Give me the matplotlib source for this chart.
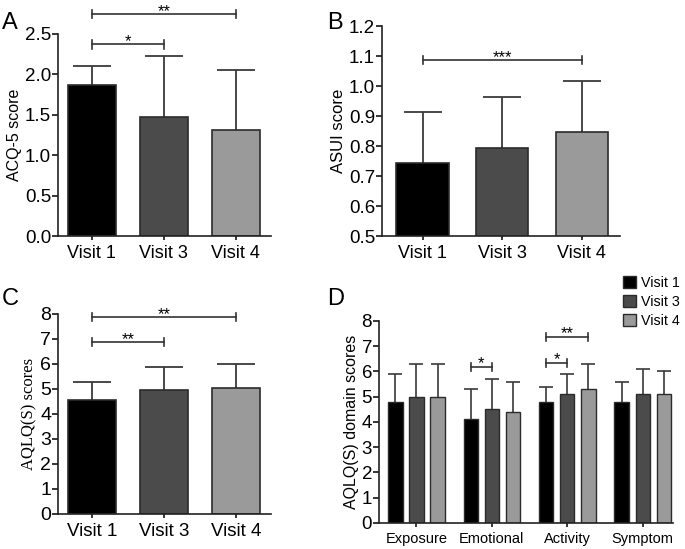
import numpy as np
import matplotlib
matplotlib.use("Agg")
import matplotlib.pyplot as plt
from matplotlib.patches import Patch

plt.rcParams['font.family'] = ['Liberation Sans', 'DejaVu Sans']

# data
visits = ['Visit 1', 'Visit 3', 'Visit 4']
acq_mean = [1.87, 1.47, 1.31]
acq_sd = [0.24, 0.76, 0.74]
asui_mean = [0.745, 0.795, 0.847]
asui_sd = [0.167, 0.168, 0.170]
aqlq_mean = [4.56, 4.96, 5.02]
aqlq_sd = [0.71, 0.90, 0.98]
domains = ['Exposure', 'Emotional', 'Activity', 'Symptom']
dom_v1 = [4.8, 4.1, 4.8, 4.8]
dom_v1_sd = [1.1, 1.2, 0.6, 0.8]
dom_v3 = [5.0, 4.5, 5.1, 5.1]
dom_v3_sd = [1.3, 1.2, 0.8, 1.0]
dom_v4 = [5.0, 4.4, 5.3, 5.1]
dom_v4_sd = [1.3, 1.2, 1.0, 0.9]

colors = ['#000000', '#4b4b4b', '#9a9a9a']
edge = '#2b2b2b'
ecol = '#3a3a3a'


def style(ax, ysize):
    for s in ['top', 'right']:
        ax.spines[s].set_visible(False)
    for s in ['left', 'bottom']:
        ax.spines[s].set_linewidth(1.2)
        ax.spines[s].set_color('#222222')
    ax.tick_params(axis='y', labelsize=ysize, length=4, width=1.1, pad=1)
    ax.tick_params(axis='x', length=3, width=1.1)


def sig(ax, x1, x2, y, txt, d):
    ax.plot([x1, x2], [y, y], color='#333333', lw=1.2, clip_on=False)
    for x in (x1, x2):
        ax.plot([x, x], [y - d, y + d], color='#333333', lw=1.2, clip_on=False)
    ax.annotate(txt, xy=((x1 + x2) / 2, y), xytext=(0, -3.5),
                textcoords='offset points', ha='center', va='bottom',
                fontsize=12, annotation_clip=False)


def simple_bars(ax, mean, sd):
    x = np.arange(len(mean))
    ax.errorbar(x, mean, yerr=sd, fmt='none', ecolor=ecol, elinewidth=1.3,
                capsize=14, capthick=1.3, zorder=1)
    ax.bar(x, mean, width=0.66, color=colors, edgecolor=edge, linewidth=1.2,
           zorder=2)
    ax.set_xticks(x)
    return x


fig = plt.figure(figsize=(6.85, 5.49), dpi=100)

# A
axA = fig.add_axes([0.0847, 0.5701, 0.311, 0.368])
simple_bars(axA, acq_mean, acq_sd)
axA.set_xticklabels(visits, fontsize=13)
axA.set_xlim(-0.47, 2.49)
axA.set_ylim(0, 2.5)
axA.set_yticks(np.arange(0, 2.51, 0.5))
axA.yaxis.set_major_formatter(matplotlib.ticker.FormatStrFormatter('%.1f'))
style(axA, 13.5)
axA.set_ylabel('ACQ-5 score', fontsize=11.5, labelpad=2)
sig(axA, 0, 1, 2.37, '*', 0.05)
sig(axA, 0, 2, 2.75, '**', 0.05)

# B
axB = fig.add_axes([0.5577, 0.5701, 0.3474, 0.3825])
simple_bars(axB, asui_mean, asui_sd)
axB.set_xticklabels(visits, fontsize=13)
axB.set_xlim(-0.51, 2.48)
axB.set_ylim(0.5, 1.2)
axB.set_yticks(np.arange(0.5, 1.21, 0.1))
axB.yaxis.set_major_formatter(matplotlib.ticker.FormatStrFormatter('%.1f'))
style(axB, 13.5)
axB.set_ylabel('ASUI score', fontsize=12, labelpad=2)
sig(axB, 0, 2, 1.087, '***', 0.013)

# C
axC = fig.add_axes([0.0847, 0.0638, 0.311, 0.3643])
simple_bars(axC, aqlq_mean, aqlq_sd)
axC.set_xticklabels(visits, fontsize=13.5)
axC.set_xlim(-0.47, 2.49)
axC.set_ylim(0, 8)
axC.set_yticks(range(0, 9))
style(axC, 14)
axC.set_ylabel('AQLQ(S) scores', fontsize=12, family='Liberation Serif',
               labelpad=2)
sig(axC, 0, 1, 6.87, '**', 0.16)
sig(axC, 0, 2, 7.87, '**', 0.16)

# D
axD = fig.add_axes([0.5533, 0.0474, 0.429, 0.368])
gx = np.arange(len(domains))
off = 0.28
bw = 0.19
series = [(dom_v1, dom_v1_sd), (dom_v3, dom_v3_sd), (dom_v4, dom_v4_sd)]
for i, (m, s) in enumerate(series):
    xs = gx + (i - 1) * off
    axD.errorbar(xs, m, yerr=s, fmt='none', ecolor=ecol, elinewidth=1.2,
                 capsize=5, capthick=1.2, zorder=1)
    axD.bar(xs, m, width=bw, color=colors[i], edgecolor=edge, linewidth=1.0,
            zorder=2)
axD.set_xticks(gx)
axD.set_xticklabels(domains, fontsize=10.5)
axD.set_xlim(-0.497, 3.40)
axD.set_ylim(0, 8)
axD.set_yticks(range(0, 9))
style(axD, 13.5)
axD.set_ylabel('AQLQ(S) domain scores', fontsize=11.5, labelpad=2)
sig(axD, 1 - off, 1, 6.19, '*', 0.16)
sig(axD, 2 - off, 2, 6.35, '*', 0.16)
sig(axD, 2 - off, 2 + off, 7.38, '**', 0.16)

handles = [Patch(facecolor=c, edgecolor=edge, label=v) for c, v in zip(colors, visits)]
fig.legend(handles=handles, loc='upper left', bbox_to_anchor=(0.905, 0.503),
           frameon=False, fontsize=10.3, handlelength=0.9, handleheight=0.9,
           handletextpad=0.4, labelspacing=0.35, borderaxespad=0, borderpad=0.2)

# panel letters
fig.text(0.003, 0.978, 'A', fontsize=17, va='top')
fig.text(0.478, 0.978, 'B', fontsize=17, va='top')
fig.text(0.003, 0.476, 'C', fontsize=17, va='top')
fig.text(0.478, 0.476, 'D', fontsize=17, va='top')

fig.savefig('out.png', dpi=100)
